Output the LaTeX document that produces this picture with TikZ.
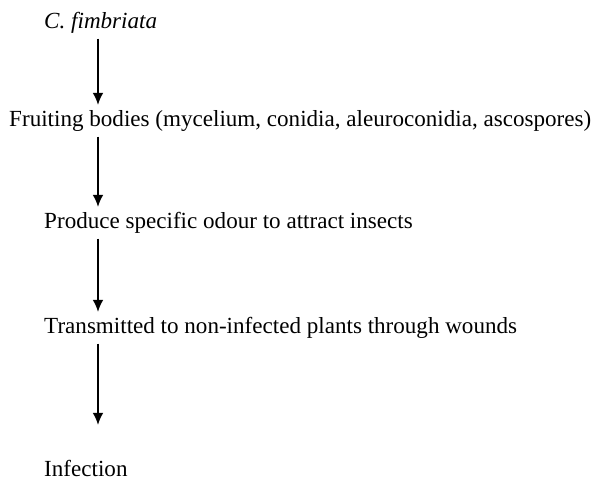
\documentclass[tikz,border=0pt]{standalone}
\usepackage{fontspec}
\setmainfont{Liberation Serif}
\usetikzlibrary{arrows.meta}

\begin{document}
\begin{tikzpicture}[
  stage/.style = {inner sep=0pt, anchor=base west, text height=13.5pt,
                  text depth=4.5pt, font=\fontsize{19.7}{23}\selectfont},
  arr/.style = {-{Latex[length=0.36cm,width=0.32cm]}, line width=1.4pt,
                shorten <=0.15cm, shorten >=0.15cm}
]
  \useasboundingbox (0,0) rectangle (17.79,-14.34);

  % steps of the cycle
  \node[stage] (fungus) at (1.32,-0.84)  {\textit{C. fimbriata}};
  \node[stage] (bodies) at (0.27,-3.78)  {Fruiting bodies (mycelium, conidia, aleuroconidia, ascospores)};
  \node[stage] (odour)  at (1.32,-6.84)  {Produce specific odour to attract insects};
  \node[stage] (wounds) at (1.32,-9.99)  {Transmitted to non-infected plants through wounds};
  \node[stage] (infect) at (1.32,-14.28) {Infection};

  % common axis of the arrows
  \coordinate (axis) at (2.94,0);

  % arrows
  \draw[arr] (fungus.south -| axis) -- (bodies.north -| axis);
  \draw[arr] (bodies.south -| axis) -- (odour.north -| axis);
  \draw[arr] (odour.south -| axis)  -- (wounds.north -| axis);
  \draw[arr, shorten >=1.05cm] (wounds.south -| axis) -- (infect.north -| axis);

\end{tikzpicture}
\end{document}
